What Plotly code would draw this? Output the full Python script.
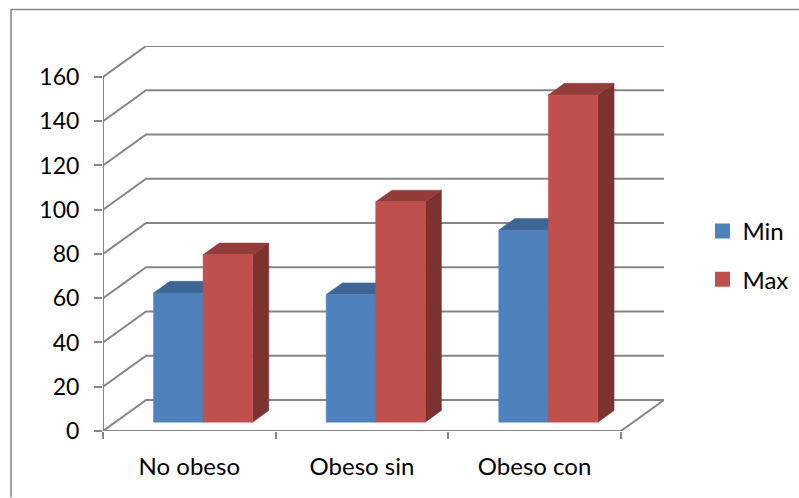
import plotly.graph_objects as go

# Chart data
categories = ["No obeso", "Obeso sin", "Obeso con"]
series_names = ["Min", "Max"]
min_values = [58.4, 57.7, 86.8]
max_values = [75.7, 99.6, 147.9]
value_ticks = [0, 20, 40, 60, 80, 100, 120, 140, 160]

# Pseudo-3D projection: depth 1 is the back wall, depth 0 the front edge of the floor
DEPTH_X = 0.2496      # horizontal shift of the back wall, in category units
DEPTH_Y = 14.0        # vertical shift of the back wall, in value units
BAR_FRONT = 0.285
BAR_BACK = 0.66
BAR_WIDTH = 0.287
BAR_START = 0.2215

GRID = "#868686"
FACE = {"Min": ("#4F81BD", "#3E6695", "#395E8A"), "Max": ("#C0504D", "#943C3A", "#7E3230")}


def project(cat, val, depth):
    return cat + depth * DEPTH_X, val + depth * DEPTH_Y


def polygon(points, color):
    xs, ys = zip(*(project(*p) for p in points))
    return go.Scatter(x=list(xs) + [xs[0]], y=list(ys) + [ys[0]], mode="lines", fill="toself",
                      fillcolor=color, line=dict(color=color, width=0.5),
                      hoverinfo="skip", showlegend=False)


def path(points, width=2):
    xs, ys = zip(*(project(*p) for p in points))
    return go.Scatter(x=list(xs), y=list(ys), mode="lines", line=dict(color=GRID, width=width),
                      hoverinfo="skip", showlegend=False)


fig = go.Figure()

# Walls and floor
n = len(categories)
for tick in value_ticks:
    fig.add_trace(path([(0, tick, 0), (0, tick, 1), (n, tick, 1)]))
fig.add_trace(path([(0, 0, 0), (n, 0, 0), (n, 0, 1)]))
fig.add_trace(path([(0, 0, 0), (0, value_ticks[-1], 0)]))

# Columns, painted back to front and left to right
for i in range(n):
    for j, (name, values) in enumerate(zip(series_names, (min_values, max_values))):
        front, top, side = FACE[name]
        x0 = i + BAR_START + j * BAR_WIDTH
        x1 = x0 + BAR_WIDTH
        v = values[i]
        fig.add_trace(polygon([(x1, 0, BAR_FRONT), (x1, 0, BAR_BACK), (x1, v, BAR_BACK), (x1, v, BAR_FRONT)], side))
        fig.add_trace(polygon([(x0, v, BAR_FRONT), (x1, v, BAR_FRONT), (x1, v, BAR_BACK), (x0, v, BAR_BACK)], top))
        fig.add_trace(polygon([(x0, 0, BAR_FRONT), (x1, 0, BAR_FRONT), (x1, v, BAR_FRONT), (x0, v, BAR_FRONT)], front))

# Legend keys
for name in series_names:
    fig.add_trace(go.Scatter(x=[None], y=[None], mode="markers", name=name, legendgroup=name,
                             marker=dict(symbol="square", size=15, color=FACE[name][0])))

FAMILY = "Lato, Carlito, sans-serif"
L, R, T, B = 103, 664, 46, 431.5
W, H = 799, 498

fig.update_layout(
    width=W, height=H, autosize=False,
    margin=dict(l=L, r=W - R, t=T, b=H - B, pad=0),
    paper_bgcolor="white", plot_bgcolor="white", font=dict(family=FAMILY, size=24, color="#000000"),
    legend=dict(xref="container", yref="container", x=702.5 / W, y=1 - 209 / H,
                xanchor="left", yanchor="top", tracegroupgap=14, itemsizing="trace",
                font=dict(family=FAMILY, size=24, color="#000000"), bgcolor="rgba(0,0,0,0)"),
    xaxis=dict(range=[0, n + DEPTH_X], tickvals=[i + 0.5 for i in range(n)], ticktext=categories,
               tickfont=dict(family=FAMILY, size=24, color="#000000"),
               ticks="", showgrid=False, zeroline=False, showline=False, ticklabelstandoff=19,
               minor=dict(tickvals=list(range(n + 1)), ticks="outside", ticklen=7, tickwidth=2,
                          tickcolor=GRID, showgrid=False)),
    yaxis=dict(range=[0, (B - T) / (354.5 / 160)], tickvals=value_ticks, ticks="outside", ticklen=8,
               tickfont=dict(family=FAMILY, size=23, color="#000000"),
               tickwidth=2, tickcolor=GRID, showgrid=False, zeroline=False, showline=False,
               ticklabelstandoff=10),
    shapes=[dict(type="path", xref="paper", yref="paper", layer="below",
                 path="M {:.4f} {:.4f} L {:.4f} {:.4f} L {:.4f} {:.4f}".format(
                     (11 - L) / (R - L), (B - H) / (B - T),
                     (11 - L) / (R - L), (B - 9.5) / (B - T),
                     (W - L) / (R - L), (B - 9.5) / (B - T)),
                 line=dict(color=GRID, width=1.5))],
)

fig.write_html("out.html", config={"displayModeBar": False})
